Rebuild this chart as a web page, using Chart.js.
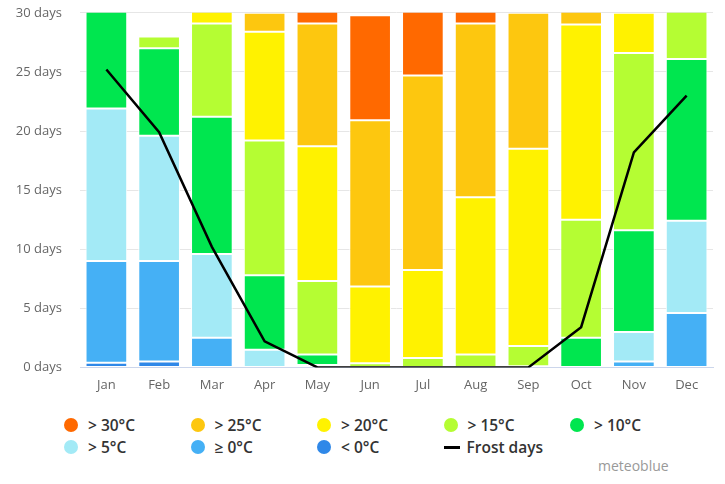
<!DOCTYPE html>
<html>
<head>
<meta charset="utf-8">
<script src="https://cdn.jsdelivr.net/npm/chart.js@4/dist/chart.umd.min.js"></script>
<style>
  body { margin: 0; background: #fff; font-family: "Open Sans", sans-serif; }
  #wrap { position: relative; width: 725px; height: 484px; overflow: hidden; }
  #box { position: absolute; left: 0; top: -13px; width: 725px; height: 420px; }
  #legend { position: absolute; left: 64px; top: 415px; display: grid;
    grid-template-columns: repeat(5, 126.5px); row-gap: 2px; }
  .item { display: flex; align-items: center; height: 20px; font-size: 15.5px;
    font-weight: 600; color: #333; }
  .dot { width: 14px; height: 14px; border-radius: 50%; margin-right: 10px; }
  .dash { width: 16px; height: 3px; background: #000; margin-right: 7px; }
  #brand { position: absolute; left: 598px; top: 456px; font-size: 14px; color: #999; }
</style>
</head>
<body>
<div id="wrap">
  <div id="box"><canvas id="climateChart"></canvas></div>
  <div id="legend"></div>
  <div id="brand">meteoblue</div>
</div>
<script>
// Months on the x axis
const months = ['Jan', 'Feb', 'Mar', 'Apr', 'May', 'Jun', 'Jul', 'Aug', 'Sep', 'Oct', 'Nov', 'Dec'];

// days per month with max temperature in each band (bottom of the stack first)
const below0 = [0.4, 0.5, 0, 0, 0, 0, 0, 0, 0, 0, 0, 0];
const above0 = [8.6, 8.5, 2.5, 0, 0, 0, 0, 0, 0, 0, 0.5, 4.6];
const above5 = [12.9, 10.6, 7.1, 1.5, 0.2, 0, 0, 0, 0, 0, 2.5, 7.8];
const above10 = [9.1, 7.4, 11.6, 6.3, 0.9, 0, 0, 0, 0.1, 2.5, 8.6, 13.7];
const above15 = [0, 1.0, 7.9, 11.4, 6.2, 0.35, 0.8, 1.1, 1.7, 10.0, 15.0, 4.9];
const above20 = [0, 0, 1.9, 9.2, 11.4, 6.5, 7.45, 13.3, 16.7, 16.5, 3.4, 0];
const above25 = [0, 0, 0, 1.6, 10.4, 14.05, 16.45, 14.7, 11.5, 2.0, 0, 0];
const above30 = [0, 0, 0, 0, 1.9, 8.9, 6.3, 1.9, 0, 0, 0, 0];

// frost days line
const frostDays = [25.2, 19.9, 10.2, 2.2, 0, 0, 0, 0, 0, 3.4, 18.2, 23.0];

const yTicks = [0, 5, 10, 15, 20, 25, 30];

const bands = [
    { label: '< 0°C', data: below0, color: '#2f88e8' },
    { label: '≥ 0°C', data: above0, color: '#45b0f5' },
    { label: '> 5°C', data: above5, color: '#a3eaf6' },
    { label: '> 10°C', data: above10, color: '#00e64f' },
    { label: '> 15°C', data: above15, color: '#b5fd33' },
    { label: '> 20°C', data: above20, color: '#fff200' },
    { label: '> 25°C', data: above25, color: '#fdc70f' },
    { label: '> 30°C', data: above30, color: '#ff6900' }
];

const datasets = bands.map(b => ({
    type: 'bar',
    label: b.label,
    data: b.data,
    backgroundColor: b.color,
    borderColor: '#ffffff',
    borderWidth: 1,
    borderSkipped: false,
    stack: 'temp',
    order: 1,
    barPercentage: 0.79,
    categoryPercentage: 1
}));

datasets.push({
    type: 'line',
    label: 'Frost days',
    data: frostDays,
    borderColor: '#000000',
    borderWidth: 2.5,
    pointRadius: 0,
    tension: 0,
    stack: 'frost',
    order: 0
});

new Chart(document.getElementById('climateChart'), {
    data: { labels: months, datasets: datasets },
    options: {
        responsive: true,
        maintainAspectRatio: false,
        animation: false,
        layout: { padding: { top: 5, right: 12, left: 0, bottom: 4 } },
        scales: {
            x: {
                stacked: true,
                grid: { display: false, drawTicks: false },
                border: { color: '#ccd6eb' },
                ticks: { color: '#666', font: { family: 'Open Sans', size: 13 }, padding: 10 }
            },
            y: {
                stacked: true,
                min: 0,
                max: 30,
                afterFit: s => { s.width = 80; },
                afterBuildTicks: s => { s.ticks = yTicks.map(v => ({ value: v })); },
                grid: { color: '#e6e6e6', drawTicks: false },
                border: { display: false },
                ticks: {
                    color: '#666',
                    font: { family: 'Open Sans', size: 13 },
                    padding: 18,
                    callback: v => v + ' days'
                }
            }
        },
        plugins: {
            legend: { display: false },
            tooltip: { enabled: false }
        }
    }
});

// legend grid, same order as the original (warmest first)
const legendEl = document.getElementById('legend');
bands.slice().reverse().forEach(b => {
    const item = document.createElement('div');
    item.className = 'item';
    item.innerHTML = '<span class="dot" style="background:' + b.color + '"></span>' + b.label;
    legendEl.appendChild(item);
});
const frostItem = document.createElement('div');
frostItem.className = 'item';
frostItem.innerHTML = '<span class="dash"></span>Frost days';
legendEl.appendChild(frostItem);
</script>
</body>
</html>
